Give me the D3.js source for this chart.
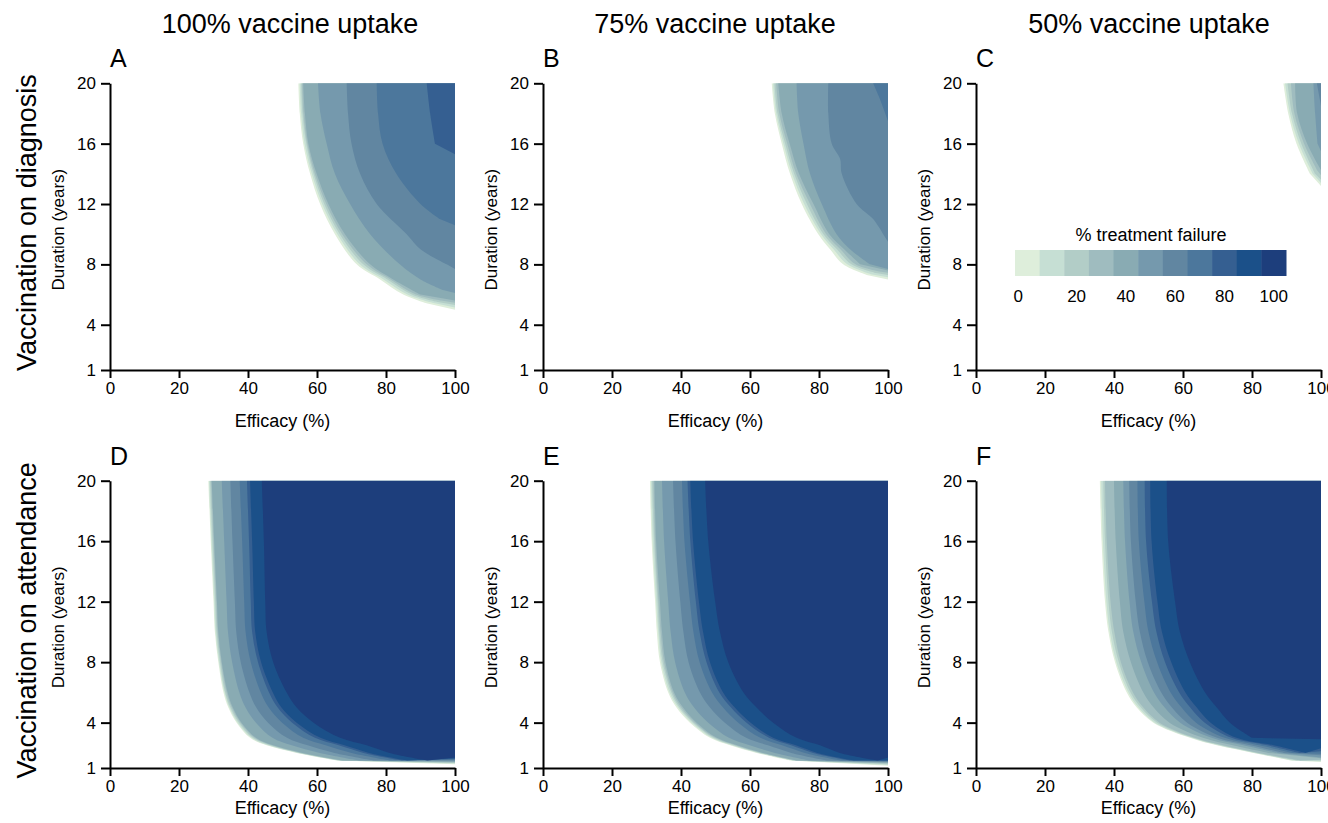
<!DOCTYPE html>
<html><head><meta charset="utf-8">
<script src="https://cdn.jsdelivr.net/npm/d3@7"></script>
<style>
body{margin:0;background:#fff;}
svg{display:block;font-family:"Liberation Sans",Arial,Helvetica,sans-serif;}
</style></head><body>
<svg id="c" width="1328" height="823"></svg>
<script>
// ---------------- DATA ----------------
const columnTitles = ["100% vaccine uptake", "75% vaccine uptake", "50% vaccine uptake"];
const rowTitles = ["Vaccination on diagnosis", "Vaccination on attendance"];
const panelLetters = ["A", "B", "C", "D", "E", "F"];
const efficacyTicks = [0, 20, 40, 60, 80, 100];
const durationTicks = [1, 4, 8, 12, 16, 20];
const legendTitle = "% treatment failure";
const legendTicks = [0, 20, 40, 60, 80, 100];
const levelColors = ["#deeedb", "#c6dfd4", "#b2cdc7", "#9fbcbf", "#89abb3", "#7599ad",
                     "#6186a1", "#4c779c", "#355f91", "#1b5089", "#1d3e7c"];

// Top row: contour of each failure level, as [efficacy %, duration years] pairs
const contoursA = [
  [1, [[54.6,20],[55,18],[56,16],[58,14],[60.9,12],[65.2,10],[71.5,8],[78.3,7],[85,6],[92,5.4],[100,5.0]]],
  [2, [[55.0,20],[55.4,18],[56.4,16],[58.5,14],[61.5,12],[65.9,10],[72.4,8],[79.3,7],[86.2,6],[93.5,5.45],[100,5.15]]],
  [3, [[55.4,20],[55.8,18],[56.9,16],[59.0,14],[62.1,12],[66.6,10],[73.4,8],[80.4,7],[87.5,6],[95,5.5],[100,5.3]]],
  [4, [[55.7,20],[56.1,18],[57.2,16],[59.4,14],[62.7,12],[67.3,10],[74.4,8],[81.3,7],[88.7,6],[96,5.6],[100,5.45]]],
  [5, [[56,20],[56.5,18],[57.5,16],[59.9,14],[63.3,12],[68.1,10],[75.4,8],[82.1,7],[90,6],[100,5.6]]],
  [6, [[60.3,20],[61,18],[62.8,16],[65.2,14],[69.6,12],[75.4,10],[84,8],[90,7],[96.5,6.3],[100,6.1]]],
  [7, [[68.6,20],[69,18],[70,16],[72.5,14],[77.3,12],[86,10],[90,9],[97.6,8],[100,7.7]]],
  [8, [[77.3,20],[77.7,18],[79,16],[83,14],[90,12],[95.6,11],[100,10.6]]],
  [9, [[91.8,20],[92.8,18],[94.2,16],[100,15.3]]]
];
const contoursB = [
  [1, [[66.3,20],[67.2,18],[69.2,16],[71.6,14],[75,12],[79.8,10],[83.2,9],[87,8],[93.8,7.3],[100,7.0]]],
  [2, [[66.7,20],[67.6,18],[69.7,16],[72.2,14],[75.7,12],[80.6,10],[84.2,9],[88.2,8],[95,7.35],[100,7.15]]],
  [3, [[67.1,20],[68,18],[70.2,16],[72.8,14],[76.5,12],[81.3,10],[85.2,9],[89.4,8],[96,7.45],[100,7.3]]],
  [4, [[67.6,20],[68.5,18],[70.8,16],[73.4,14],[77.4,12],[82.1,10],[86.2,9],[90.6,8],[97,7.55],[100,7.45]]],
  [5, [[68.2,20],[69.2,18],[71.5,16],[74.2,14],[78.4,12],[83.0,10],[87.3,9],[92,8],[100,7.6]]],
  [6, [[73.5,20],[74,18],[75.5,16],[77.4,14],[80.8,12],[85.1,10],[89,9],[94.8,8],[100,7.7]]],
  [7, [[82.7,20],[82.7,18],[83.7,16],[86.1,15],[86.6,14],[90.9,12],[95.7,11],[98.6,10],[100,9.5]]],
  [8, [[95.7,20],[97.6,19],[100,17.5]]]
];
const contoursC = [
  [1, [[89.1,20],[90.5,18],[92.9,16],[96.8,14],[100,13.2]]],
  [2, [[89.6,20],[91,18],[93.6,16],[97.6,14],[100,13.4]]],
  [3, [[90.3,20],[91.6,18],[94.3,16],[98.3,14],[100,13.6]]],
  [4, [[91.3,20],[92.3,18],[95.1,16],[99,14.2],[100,13.9]]],
  [5, [[92.5,20],[93.1,18],[96,16],[99.9,14.3],[100,14.2]]],
  [6, [[97.8,20],[98.3,18],[99,16],[100,15.5]]],
  [7, [[98.8,20],[100,18.5]]]
];

// Bottom row: efficacy (%) where each level begins, at these durations (years)
const durGrid = [20, 16, 12, 10, 8, 6, 5, 4, 3, 2.5, 2, 1.5];
const effD = [
  [28.5,29.2,30.0,30.4,31.4,32.9,34.3,36.7,40.6,45.4,54.1,65.7],
  [28.7,29.4,30.2,30.6,31.6,33.2,34.6,37.0,41.0,45.8,54.5,66.1],
  [29.0,29.7,30.5,30.9,31.9,33.4,34.9,37.4,41.4,46.3,54.9,66.5],
  [29.3,30.0,30.8,31.2,32.2,33.8,35.3,37.8,41.9,46.9,55.4,67.0],
  [29.5,30.2,31.0,31.4,32.4,34.1,35.6,38.1,42.3,47.3,55.8,67.4],
  [32.4,33.1,33.8,34.2,35.4,37.5,39.3,42.3,47.1,52.7,60.8,72.3],
  [34.9,35.5,36.2,36.6,37.9,40.4,42.4,45.8,51.3,57.3,65.1,76.5],
  [37.6,38.3,38.9,39.3,40.8,43.7,46.0,49.9,56.0,62.5,70.0,81.2],
  [39.7,40.3,40.8,41.2,42.9,46.1,48.6,52.8,59.4,66.3,73.5,84.6],
  [40.6,41.2,41.7,42.1,43.8,47.2,49.7,54.1,61.0,68.0,75.1,86.2],
  [44.0,44.6,45.0,45.4,47.3,51.2,54.1,59.0,66.7,74.4,81.0,92.0]
];
const endD = [1.25,1.3,1.33,1.36,1.4,1.45,1.5,1.55,1.6,1.65,1.7];
const effE = [
  [31.0,31.5,32.5,33.0,33.9,36.3,38.7,42.6,48.4,54.2,61.9,71.6],
  [31.3,31.8,32.8,33.4,34.3,36.7,39.2,43.1,48.9,54.7,62.4,72.1],
  [31.6,32.2,33.2,33.7,34.7,37.2,39.6,43.6,49.4,55.2,62.9,72.6],
  [32.0,32.5,33.5,34.1,35.1,37.6,40.1,44.0,49.9,55.8,63.3,73.1],
  [32.3,32.8,33.9,34.5,35.5,38.0,40.6,44.5,50.4,56.3,63.8,73.6],
  [34.5,35.1,36.3,37.0,38.3,41.1,43.8,47.9,53.9,59.9,67.2,77.2],
  [37.7,38.4,39.8,40.7,42.2,45.5,48.4,52.7,58.9,65.2,72.0,82.3],
  [40.3,41.0,42.6,43.6,45.4,49.0,52.2,56.6,63.0,69.3,75.9,86.3],
  [41.9,42.7,44.3,45.4,47.4,51.1,54.5,59.0,65.5,71.9,78.3,88.9],
  [42.7,43.5,45.2,46.4,48.4,52.2,55.6,60.2,66.7,73.3,79.5,90.1],
  [47.0,47.9,49.9,51.3,53.7,58.1,61.9,66.7,73.5,80.3,86.0,97.0]
];
const endE = [1.15,1.2,1.25,1.3,1.33,1.38,1.42,1.45,1.48,1.5,1.7];
const effF = [
  [35.9,36.4,37.4,38.4,40.3,43.7,46.6,51.4,62.0,69.8,80.4,91.0],
  [36.3,36.8,37.8,38.8,40.7,44.2,47.1,51.8,62.4,70.2,80.8,92.0],
  [36.9,37.4,38.4,39.4,41.4,44.8,47.8,52.5,62.9,70.9,81.4,93.0],
  [37.4,37.9,39.0,40.1,42.0,45.5,48.5,53.2,63.4,71.6,82.0,94.0],
  [40.0,40.5,41.7,42.7,44.9,48.5,51.5,56.1,65.8,74.4,84.6,null],
  [42.7,43.2,44.5,45.6,47.9,51.6,54.7,59.2,68.3,77.5,87.4,null],
  [44.4,44.9,46.3,47.5,49.8,53.7,56.8,61.2,69.9,79.5,89.2,null],
  [46.8,47.2,48.8,50.0,52.5,56.4,59.6,63.8,72.1,82.1,91.6,null],
  [48.9,49.3,51.0,52.3,54.8,58.9,62.1,66.3,74.1,84.5,93.8,null],
  [50.5,50.9,52.6,53.9,56.6,60.7,64.0,68.0,75.5,86.3,95.4,null],
  [55.3,55.7,57.7,59.1,62.0,66.4,69.8,73.6,80.0,null,null,null]
];
const endF = [1.4,1.45,1.5,1.55,1.65,1.7,1.85,1.95,2.1,2.3,2.9];

// ---------------- BUILD ----------------
function gridContours(effs, ends) {
  return effs.map((row, k) => [k + 1,
    durGrid.map((d, i) => [row[i], d]).filter(p => p[0] != null).concat([[100, ends[k]]])]);
}
const panels = [
  {row: 0, col: 0, contours: contoursA},
  {row: 0, col: 1, contours: contoursB},
  {row: 0, col: 2, contours: contoursC},
  {row: 1, col: 0, contours: gridContours(effD, endD)},
  {row: 1, col: 1, contours: gridContours(effE, endE)},
  {row: 1, col: 2, contours: gridContours(effF, endF)}
];

const svg = d3.select("#c");
const colX = [110, 543, 976], plotW = 345;
const rowY = [[83.3, 370], [480.7, 768]];
const titleX = [290, 715, 1149];
const effLabelOffset = [57, 46];

svg.selectAll("text.coltitle").data(columnTitles).join("text")
  .attr("class", "coltitle")
  .attr("x", (d, i) => titleX[i]).attr("y", 33)
  .attr("text-anchor", "middle").attr("font-size", 27).attr("fill", "#000")
  .text(d => d);

rowTitles.forEach((t, r) => {
  const cy = (rowY[r][0] + rowY[r][1]) / 2 - 4;
  svg.append("text")
    .attr("transform", `translate(36,${cy}) rotate(-90)`)
    .attr("text-anchor", "middle").attr("font-size", 27).attr("fill", "#000")
    .text(t);
});

panels.forEach((p, i) => {
  const x0 = colX[p.col];
  const x = d3.scaleLinear().domain([0, 100]).range([x0, x0 + plotW]);
  const y = d3.scaleLinear().domain([1, 20]).range([rowY[p.row][1], rowY[p.row][0]]);
  const g = svg.append("g");

  const cid = "clip" + i;
  g.append("clipPath").attr("id", cid).append("rect")
    .attr("x", x(0)).attr("y", y(20)).attr("width", x(100) - x(0)).attr("height", y(1) - y(20));
  const fills = g.append("g").attr("clip-path", `url(#${cid})`);
  const line = d3.line().x(d => x(d[0])).y(d => y(d[1])).curve(d3.curveCatmullRom.alpha(0.5));
  p.contours.forEach(([lvl, pts]) => {
    const edge = pts.slice(0, -1);
    const last = pts[pts.length - 1];
    const dStr = (edge.length > 1 ? line(edge) : `M${x(edge[0][0])},${y(edge[0][1])}`) +
      `L${x(last[0])},${y(last[1])}L${x(100)},${y(20)}Z`;
    fills.append("path").attr("d", dStr).attr("fill", levelColors[lvl - 1]);
  });

  const xAxis = g.append("g").attr("transform", `translate(0,${y(1)})`)
    .call(d3.axisBottom(x).tickValues(efficacyTicks).tickSize(8).tickSizeOuter(0).tickPadding(4));
  const yAxis = g.append("g").attr("transform", `translate(${x0},0)`)
    .call(d3.axisLeft(y).tickValues(durationTicks).tickSize(9).tickSizeOuter(0).tickPadding(5));
  [xAxis, yAxis].forEach(a => {
    a.selectAll("path,line").attr("stroke", "#000").attr("stroke-width", 2);
    a.selectAll("text").attr("font-size", 17).attr("fill", "#000")
      .attr("font-family", '"Liberation Sans",Arial,sans-serif');
  });

  g.append("text").attr("x", (x(0) + x(100)) / 2).attr("y", y(1) + effLabelOffset[p.row])
    .attr("text-anchor", "middle").attr("font-size", 18).attr("fill", "#000")
    .text("Efficacy (%)");
  g.append("text")
    .attr("transform", `translate(${x0 - 46},${(y(1) + y(20)) / 2 + 3}) rotate(-90)`)
    .attr("text-anchor", "middle").attr("font-size", 17).attr("fill", "#000")
    .text("Duration (years)");
  g.append("text").attr("x", x0).attr("y", y(20) - 16)
    .attr("font-size", 25).attr("fill", "#000").text(panelLetters[i]);
});

// Legend
const lg = svg.append("g");
const band = d3.scaleBand().domain(d3.range(levelColors.length)).range([1015, 1286]).paddingInner(0);
lg.selectAll("rect").data(levelColors).join("rect")
  .attr("x", (d, i) => band(i)).attr("y", 250)
  .attr("width", band.bandwidth() + 0.5).attr("height", 26)
  .attr("fill", d => d);
lg.append("text").attr("x", 1151).attr("y", 241).attr("text-anchor", "middle")
  .attr("font-size", 18).attr("fill", "#000").text(legendTitle);
lg.selectAll("text.lt").data(legendTicks).join("text").attr("class", "lt")
  .attr("x", (d, i) => band(i * 2) + band.bandwidth() / 2 - (i === 0 ? 9 : 0))
  .attr("y", 302).attr("text-anchor", "middle").attr("font-size", 17).attr("fill", "#000")
  .text(d => d);
</script>
</body></html>
